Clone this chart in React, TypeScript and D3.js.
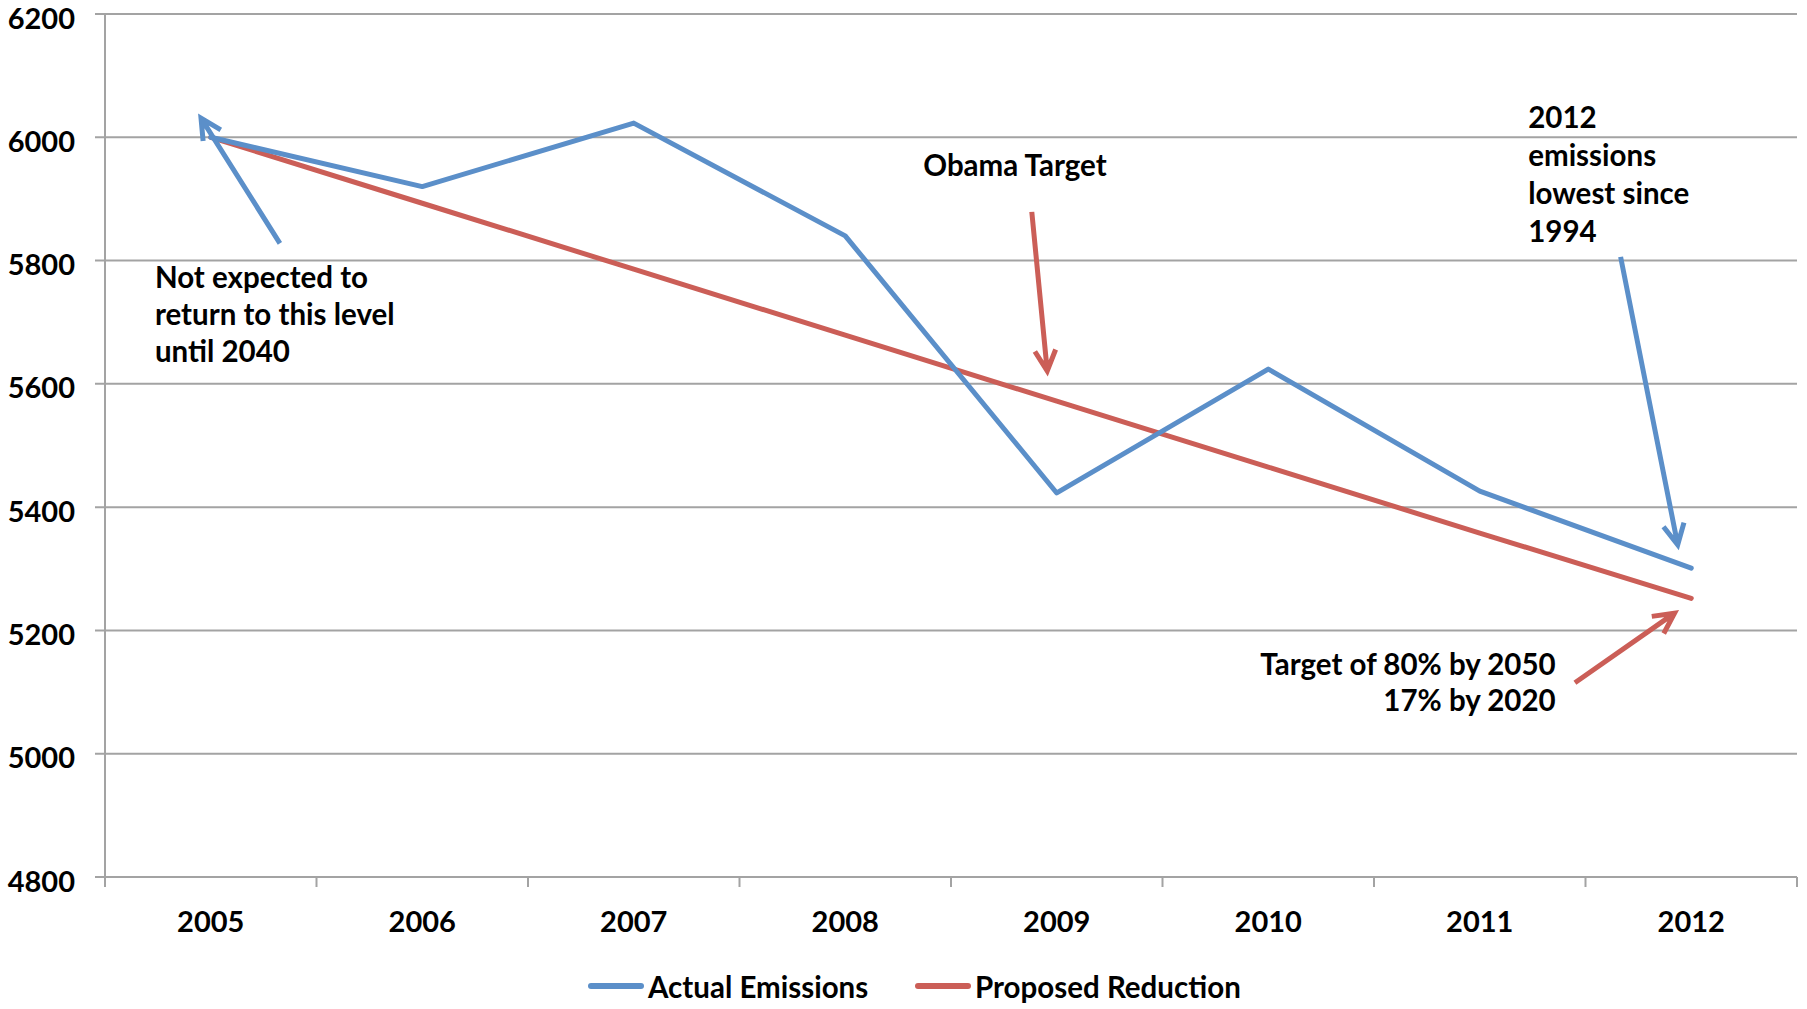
import React from "react";
import * as d3 from "d3";

// Emissions by year (million metric tons CO2)
const years = ["2005", "2006", "2007", "2008", "2009", "2010", "2011", "2012"];
const actualEmissions = [6000, 5920, 6023, 5840, 5423, 5624, 5426, 5301];
const proposedReduction = [6000, 5893, 5786, 5679, 5572, 5465, 5358, 5252];
const yTicks = [4800, 5000, 5200, 5400, 5600, 5800, 6000, 6200];

const legendItems = [
  { label: "Actual Emissions", color: "#5B8FC9" },
  { label: "Proposed Reduction", color: "#CB5E57" },
];

// Annotation arrows, in (category index, value) units
const arrows = [
  { from: [0.327, 5828], to: [-0.046, 6031], color: "#5B8FC9" },
  { from: [3.882, 5879], to: [3.955, 5621], color: "#CB5E57" },
  { from: [6.666, 5806], to: [6.936, 5339], color: "#5B8FC9" },
  { from: [6.45, 5115], to: [6.921, 5228], color: "#CB5E57" },
];

const notes = [
  { at: [-0.264, 5755], anchor: "start", gap: 37, lines: ["Not expected to", "return to this level", "until 2040"] },
  { at: [3.369, 5937], anchor: "start", gap: 37, lines: ["Obama Target"] },
  { at: [6.229, 6015], anchor: "start", gap: 38, lines: ["2012", "emissions", "lowest since", "1994"] },
  { at: [6.359, 5127], anchor: "end", gap: 36, lines: ["Target of 80% by 2050", "17% by 2020"] },
];

const W = 1807;
const H = 1009;
const FONT = "Lato, 'Open Sans', sans-serif";

export default function App() {
  const left = 105;
  const right = 1797;
  const top = 14;
  const bottom = 877;

  const x = d3.scaleBand().domain(years).range([left, right]).paddingInner(0).paddingOuter(0);
  const xi = d3.scaleLinear().domain([-0.5, years.length - 0.5]).range([left, right]);
  const y = d3.scaleLinear().domain([4800, 6200]).range([bottom, top]);

  const line = d3
    .line<number>()
    .x((_, i) => (x(years[i]) as number) + x.bandwidth() / 2)
    .y((d) => y(d));

  const gridColor = "#A3A3A3";
  const boundaries = d3.range(years.length + 1).map((i) => left + i * x.bandwidth());

  const arrowPath = (a: (typeof arrows)[number]) => {
    const x1 = xi(a.from[0]);
    const y1 = y(a.from[1]);
    const x2 = xi(a.to[0]);
    const y2 = y(a.to[1]);
    const ang = Math.atan2(y1 - y2, x1 - x2);
    const len = 23;
    const spread = (27 * Math.PI) / 180;
    const ax = x2 + len * Math.cos(ang + spread);
    const ay = y2 + len * Math.sin(ang + spread);
    const bx = x2 + len * Math.cos(ang - spread);
    const by = y2 + len * Math.sin(ang - spread);
    return `M${x1},${y1}L${x2},${y2}M${ax},${ay}L${x2},${y2}L${bx},${by}`;
  };

  const legendX = [591, 918];
  const axisSize = 29;
  const noteSize = 29.5;

  return (
    <div style={{ position: "absolute", left: 0, top: 0 }}>
      <svg width={W} height={H} style={{ display: "block", background: "#fff" }}>
        {/* horizontal gridlines with left ticks */}
        {yTicks.map((t) => (
          <line key={t} x1={left - 10} x2={right} y1={y(t)} y2={y(t)} stroke={gridColor} strokeWidth={2} />
        ))}
        {/* value axis */}
        <line x1={left} x2={left} y1={top} y2={bottom} stroke={gridColor} strokeWidth={2} />
        {/* category tick marks */}
        {boundaries.map((bx, i) => (
          <line key={i} x1={bx} x2={bx} y1={bottom} y2={bottom + 10} stroke={gridColor} strokeWidth={2} />
        ))}
        {/* value labels */}
        {yTicks.map((t) => (
          <text
            key={t}
            x={75}
            y={y(t) + 3}
            textAnchor="end"
            dominantBaseline="central"
            fontFamily={FONT}
            fontWeight={700}
            fontSize={axisSize}
            fill="#000"
          >
            {t}
          </text>
        ))}
        {/* category labels */}
        {years.map((yr) => (
          <text
            key={yr}
            x={(x(yr) as number) + x.bandwidth() / 2}
            y={920}
            textAnchor="middle"
            dominantBaseline="central"
            fontFamily={FONT}
            fontWeight={700}
            fontSize={axisSize}
            fill="#000"
          >
            {yr}
          </text>
        ))}
        {/* series */}
        <path d={line(proposedReduction) || ""} fill="none" stroke="#CB5E57" strokeWidth={5} strokeLinecap="round" strokeLinejoin="round" />
        <path d={line(actualEmissions) || ""} fill="none" stroke="#5B8FC9" strokeWidth={5} strokeLinecap="round" strokeLinejoin="round" />
        {/* annotation arrows */}
        {arrows.map((a, i) => (
          <path key={i} d={arrowPath(a)} fill="none" stroke={a.color} strokeWidth={5} strokeLinejoin="miter" />
        ))}
        {/* annotation texts */}
        {notes.map((n, i) => (
          <text
            key={i}
            x={xi(n.at[0])}
            y={y(n.at[1])}
            textAnchor={n.anchor as any}
            fontFamily={FONT}
            fontWeight={700}
            fontSize={noteSize}
            fill="#000"
          >
            {n.lines.map((l, j) => (
              <tspan key={j} x={xi(n.at[0])} dy={j === 0 ? 0 : n.gap}>
                {l}
              </tspan>
            ))}
          </text>
        ))}
        {/* legend */}
        {legendItems.map((it, i) => (
          <g key={it.label}>
            <line x1={legendX[i]} x2={legendX[i] + 50} y1={986} y2={986} stroke={it.color} strokeWidth={6} strokeLinecap="round" />
            <text
              x={legendX[i] + 57}
              y={986}
              dominantBaseline="central"
              fontFamily={FONT}
              fontWeight={700}
              fontSize={noteSize}
              fill="#000"
            >
              {it.label}
            </text>
          </g>
        ))}
      </svg>
    </div>
  );
}
